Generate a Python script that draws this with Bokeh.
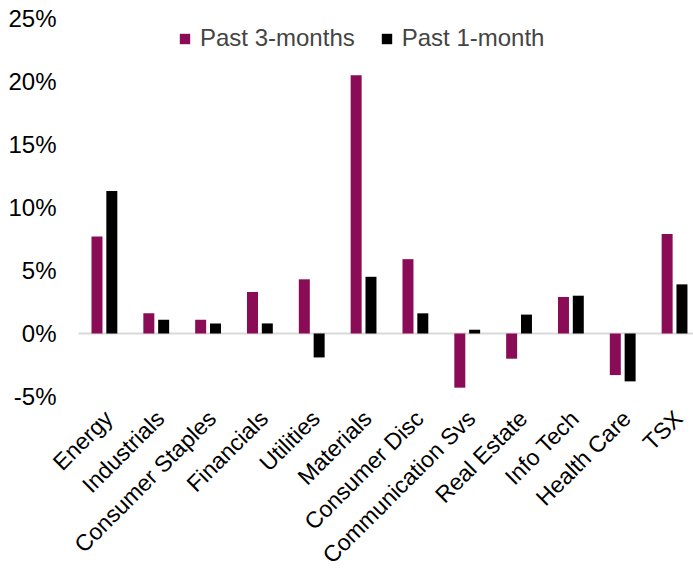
from bokeh.plotting import figure
from bokeh.models import ColumnDataSource, Range1d, Legend, LegendItem
from bokeh.core.properties import value
from bokeh.transform import dodge
from bokeh.embed import file_html
from bokeh.resources import INLINE
import math

categories = ["Energy", "Industrials", "Consumer Staples", "Financials", "Utilities",
              "Materials", "Consumer Disc", "Communication Svs", "Real Estate",
              "Info Tech", "Health Care", "TSX"]
past_3m = [7.7, 1.6, 1.1, 3.3, 4.3, 20.5, 5.9, -4.3, -2.0, 2.9, -3.3, 7.9]
past_1m = [11.3, 1.1, 0.8, 0.8, -1.9, 4.5, 1.6, 0.3, 1.5, 3.0, -3.8, 3.9]
y_ticks = [-5, 0, 5, 10, 15, 20, 25]
y_tick_labels = [f"{t}%" for t in y_ticks]

FONT = "Liberation Sans"
FS = "24px"
FS_CAT = "23px"
MAGENTA = "#8A0C56"

W, H = 693, 573
Y_MIN, Y_MAX = -5, 25
PX_PER_Y = 378 / (Y_MAX - Y_MIN)
TOP_SPACE, BOTTOM_SPACE = 18, 177
LEFT_SPACE = 78
PX_PER_X = 51.83

n = len(categories)
x_start = -0.5 - LEFT_SPACE / PX_PER_X
x_end = x_start + W / PX_PER_X
y_start = Y_MIN - BOTTOM_SPACE / PX_PER_Y
y_end = Y_MAX + TOP_SPACE / PX_PER_Y

idx = list(range(n))
src = ColumnDataSource(dict(x=idx, cat=categories, m3=past_3m, m1=past_1m, ly=[Y_MIN] * n))
tick_src = ColumnDataSource(dict(y=y_ticks, t=y_tick_labels, x=[x_start] * len(y_ticks)))

p = figure(width=W, height=H, x_range=Range1d(x_start, x_end), y_range=Range1d(y_start, y_end),
           output_backend="svg", toolbar_location=None,
           x_axis_location=None, y_axis_location=None,
           min_border_left=0, min_border_right=0, min_border_top=0, min_border_bottom=0)
p.outline_line_color = None
p.grid.visible = False

# zero line from the first category's left edge to the right
p.ray(x=-0.5, y=0, length=0, angle=0, line_color="#d9d9d9", line_width=2)

r1 = p.vbar(x=dodge("x", -0.143), top="m3", bottom=0, width=0.212,
            source=src, fill_color=MAGENTA, line_color=None)
r2 = p.vbar(x=dodge("x", 0.143), top="m1", bottom=0, width=0.212,
            source=src, fill_color="black", line_color=None)

# y tick labels
p.text(x="x", y="y", text="t", source=tick_src, x_offset=56,
       text_align="right", text_baseline="middle",
       text_font=value(FONT), text_font_size=FS, text_color="black")

# category labels
p.text(x="x", y="ly", text="cat", source=src, angle=math.pi / 4,
       text_align="right", text_baseline="middle", x_offset=4, y_offset=18,
       text_font=value(FONT), text_font_size=FS_CAT, text_color="black")

legend = Legend(items=[LegendItem(label="Past 3-months", renderers=[r1]),
                       LegendItem(label="Past 1-month", renderers=[r2])],
                orientation="horizontal", location=(178, 520),
                glyph_width=13, glyph_height=13, label_standoff=9, spacing=25,
                label_height=30, label_width=10,
                label_text_font=FONT, label_text_font_size=FS,
                padding=0, margin=0, border_line_color=None, background_fill_alpha=0)
p.add_layout(legend, "center")

open("out.html", "w").write(file_html(p, INLINE))
